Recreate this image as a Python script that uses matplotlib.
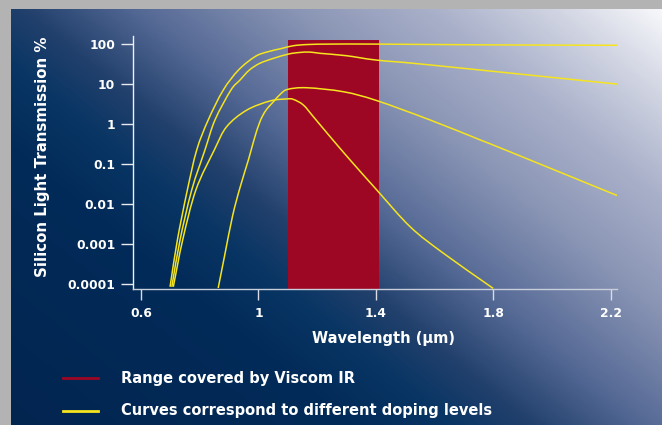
import numpy as np
import matplotlib
matplotlib.use('Agg')
import matplotlib.pyplot as plt
from matplotlib.colors import LinearSegmentedColormap
from matplotlib.lines import Line2D
from matplotlib.path import Path
from matplotlib.patches import PathPatch

plt.rcParams['font.family'] = ['DejaVu Sans']

# Wavelength (um) and transmission (%), one curve per doping level
wl_a = [0.699, 0.724, 0.758, 0.790, 0.829, 0.880, 0.932, 0.988, 1.028, 1.079, 1.12, 1.17, 1.25, 1.40, 1.80, 2.222]
tr_a = [0.000085, 0.00126, 0.0224, 0.224, 1.245, 6.9, 21.9, 47.3, 61.7, 75.9, 89.1, 95.5, 97.7, 97.7, 93.3, 91.2]

wl_b = [0.705, 0.733, 0.773, 0.818, 0.852, 0.906, 0.937, 0.969, 1.005, 1.05, 1.102, 1.14, 1.175, 1.21, 1.30, 1.403, 1.585, 2.222]
tr_b = [0.000085, 0.00126, 0.0224, 0.224, 1.245, 6.9, 12.3, 21.9, 32.4, 42.7, 55.0, 60.3, 61.7, 57.5, 50.1, 38.9, 29.5, 9.8]

wl_c = [0.863, 0.886, 0.912, 0.937, 0.966, 0.985, 1.005, 1.025, 1.051, 1.075, 1.10, 1.165, 1.29, 1.403, 1.585, 1.755, 1.857, 2.222]
tr_c = [0.0000794, 0.000562, 0.00501, 0.0251, 0.126, 0.398, 1.12, 2.14, 3.55, 5.5, 7.24, 7.94, 6.31, 3.8, 1.245, 0.398, 0.2, 0.0162]

wl_d = [0.710, 0.742, 0.787, 0.85, 0.892, 0.960, 1.040, 1.096, 1.119, 1.153, 1.187, 1.244, 1.312, 1.403, 1.517, 1.630, 1.800]
tr_d = [0.000085, 0.00126, 0.0224, 0.224, 0.85, 2.19, 3.72, 4.17, 4.07, 2.95, 1.51, 0.479, 0.126, 0.0224, 0.00269, 0.000589, 0.0000776]

# Range covered by the IR system
band_start = 1.1
band_end = 1.41
band_top = 125

x_ticks = [0.6, 1.0, 1.4, 1.8, 2.2]
x_tick_labels = ['0.6', '1', '1.4', '1.8', '2.2']
y_ticks = [0.0001, 0.001, 0.01, 0.1, 1, 10, 100]
y_tick_labels = ['0.0001', '0.001', '0.01', '0.1', '1', '10', '100']

legend_labels = ['Range covered by Viscom IR', 'Curves correspond to different doping levels']

red = '#9e0724'
yellow = '#f5e41e'
W, H = 662, 425


def smooth_path(xs, ys):
    # Catmull-Rom through the read points, done in (x, log y) space
    x = np.asarray(xs, float)
    ly = np.log10(ys)
    px = np.concatenate([[2 * x[0] - x[1]], x, [2 * x[-1] - x[-2]]])
    py = np.concatenate([[2 * ly[0] - ly[1]], ly, [2 * ly[-1] - ly[-2]]])
    verts = [(x[0], 10 ** ly[0])]
    codes = [Path.MOVETO]
    for i in range(1, len(px) - 2):
        c1 = (px[i] + (px[i + 1] - px[i - 1]) / 6, py[i] + (py[i + 1] - py[i - 1]) / 6)
        c2 = (px[i + 1] - (px[i + 2] - px[i]) / 6, py[i + 1] - (py[i + 2] - py[i]) / 6)
        verts += [(c1[0], 10 ** c1[1]), (c2[0], 10 ** c2[1]), (px[i + 1], 10 ** py[i + 1])]
        codes += [Path.CURVE4] * 3
    return Path(verts, codes)


fig = plt.figure(figsize=(W / 100, H / 100), dpi=100, facecolor='#b3b3b3')

# gradient background panel
bg = fig.add_axes([11 / W, 0, (W - 11) / W, (H - 9) / H])
bg.set_axis_off()
u = np.linspace(11 / W, 1, 400)
v = np.linspace(0, (H - 9) / H, 300)
U, V = np.meshgrid(u, v)
t = 0.56 * U + 0.44 * V
cmap = LinearSegmentedColormap.from_list('bg', [
    (0.0, '#022550'), (0.30, '#032b59'), (0.38, '#083564'), (0.45, '#22406c'),
    (0.55, '#566a96'), (0.68, '#8a95b5'), (0.80, '#aab1ca'), (0.90, '#d0d4e2'),
    (1.0, '#fbfbfd')])
bg.imshow(t, cmap=cmap, vmin=0, vmax=1, origin='lower', aspect='auto',
          extent=[0, 1, 0, 1])
bg.set_xlim(0, 1)
bg.set_ylim(0, 1)

# main chart
ax = fig.add_axes([132.7 / W, (H - 289) / H, (617 - 132.7) / W, (289 - 36) / H])
ax.patch.set_alpha(0)
ax.set_yscale('log')
ax.set_xlim(0.5717, 2.2218)
ax.set_ylim(10 ** -4.125, 10 ** 2.192)

ax.bar(band_start, band_top - 10 ** -4.125, width=band_end - band_start,
       bottom=10 ** -4.125, align='edge', color=red, zorder=1)

for wl, tr in [(wl_a, tr_a), (wl_b, tr_b), (wl_c, tr_c), (wl_d, tr_d)]:
    ax.add_patch(PathPatch(smooth_path(wl, tr), fill=False, edgecolor=yellow,
                           lw=1.1, zorder=3, capstyle='butt'))

for side in ['top', 'right']:
    ax.spines[side].set_visible(False)
ax.spines['left'].set_color('#eef0f5')
ax.spines['bottom'].set_color('#c9cedb')
ax.spines['left'].set_linewidth(1.0)
ax.spines['bottom'].set_linewidth(1.0)

ax.set_xticks(x_ticks)
ax.set_xticklabels(x_tick_labels)
ax.set_yticks(y_ticks)
ax.set_yticklabels(y_tick_labels)
ax.minorticks_off()
ax.tick_params(axis='y', direction='out', length=8.6, width=1.0, color='#e8eaf0',
               labelcolor='white', labelsize=8.8, pad=4)
ax.tick_params(axis='x', direction='out', length=8.0, width=1.0, color='#d8dce6',
               labelcolor='white', labelsize=8.8, pad=5)
for lab in ax.get_xticklabels() + ax.get_yticklabels():
    lab.set_fontweight('bold')

fig.text(383 / W, 1 - 339 / H, 'Wavelength (µm)', color='white', fontsize=10.5,
         fontweight='bold', ha='center', va='center')
fig.text(43 / W, 1 - 157 / H, 'Silicon Light Transmission %', color='white',
         fontsize=10.8, fontweight='bold', rotation=90, ha='center', va='center')

# legend drawn by hand
for i, (lab, col) in enumerate(zip(legend_labels, [red, yellow])):
    y = 1 - (378 + i * 32.5) / H
    fig.add_artist(Line2D([63 / W, 98 / W], [y, y], color=col, lw=2.0,
                          transform=fig.transFigure))
    fig.text(121 / W, y, lab, color='white', fontsize=10.5, fontweight='bold',
             ha='left', va='center')

fig.savefig('out.png', dpi=100, facecolor=fig.get_facecolor())
